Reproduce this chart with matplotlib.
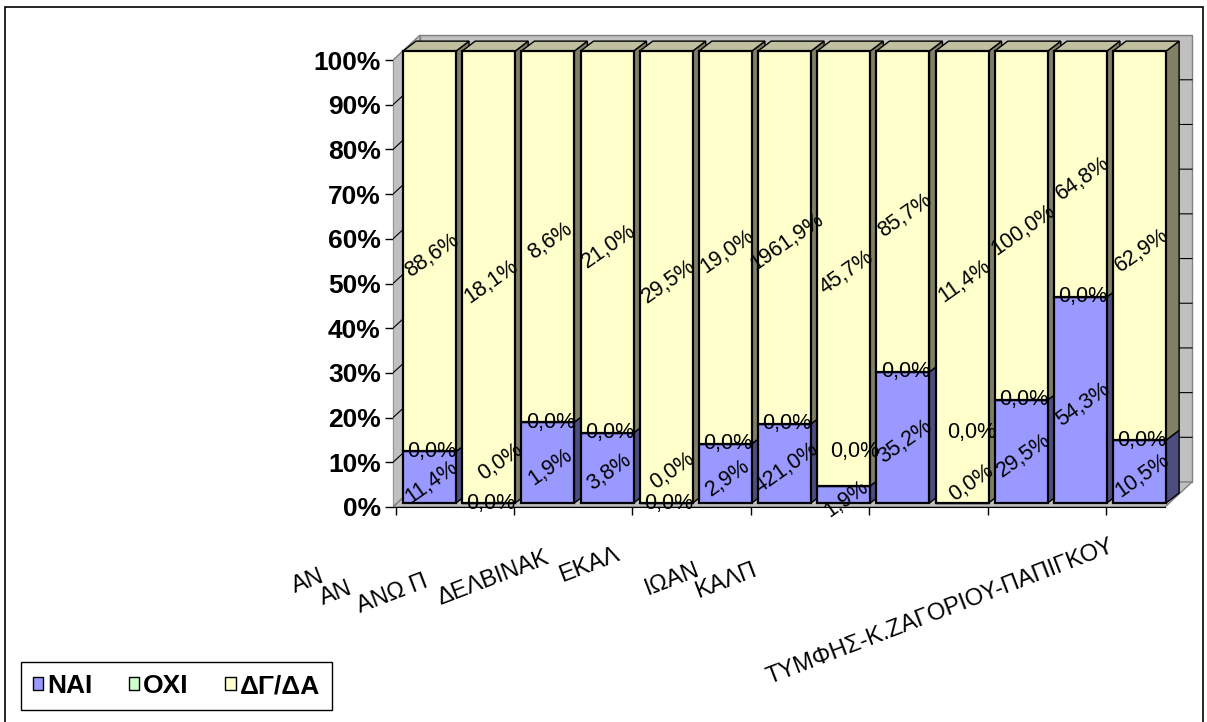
import numpy as np
import matplotlib
matplotlib.use('Agg')
import matplotlib.pyplot as plt
from matplotlib.patches import Polygon, Rectangle, Patch

plt.rcParams['font.family'] = ['Liberation Sans', 'DejaVu Sans']

# answers per municipal unit, 100% stacked
nai = [11.4, 0.0, 17.9, 15.5, 0.0, 13.1, 17.5, 3.8, 29.0, 0.0, 22.8, 45.6, 13.9]
oxi = [0.0, 0.0, 0.0, 0.0, 0.0, 0.0, 0.0, 0.0, 0.0, 0.0, 0.0, 0.0, 0.0]
dgda = [88.6, 100.0, 82.1, 84.5, 100.0, 86.9, 82.5, 96.2, 71.0, 100.0, 77.2, 54.4, 86.1]

# data label texts as they appear on the sheet
nai_txt = ['11,4%', '0,0%', '1,9%', '3,8%', '0,0%', '2,9%', '421,0%',
           '1,9%', '35,2%', '0,0%', '29,5%', '54,3%', '10,5%']
oxi_txt = ['0,0%', '0,0%', '0,0%', '0,0%', '0,0%', '0,0%', '0,0%',
           '0,0%', '0,0%', '0,0%', '0,0%', '0,0%', '0,0%']
dgda_txt = ['88,6%', '18,1%', '8,6%', '21,0%', '29,5%', '19,0%', '1961,9%',
            '45,7%', '85,7%', '11,4%', '100,0%', '64,8%', '62,9%']

series = ['ΝΑΙ', 'ΟΧΙ', 'ΔΓ/ΔΑ']
front_col = ['#9999ff', '#ccffcc', '#ffffcc']
side_col = ['#4d4d80', '#668066', '#808066']
top_col = ['#7a7acc', '#a3cca3', '#c0c0a0']

# category names (cut short the way the axis shows them), baseline start in px
cat_txt = ['ΑΝ', 'ΑΝ', 'ΑΝΩ Π', 'ΔΕΛΒΙΝΑΚ', 'ΕΚΑΛ', 'ΙΩΑΝ', 'ΚΑΛΠ',
           'ΤΥΜΦΗΣ-Κ.ΖΑΓΟΡΙΟΥ-ΠΑΠΙΓΚΟΥ']
cat_xy = [(295, 593), (323, 605), (360, 613), (440, 605), (562, 582),
          (648, 595), (698, 598), (770, 684)]

# labels dragged away from overlapping spots: (series, bar) -> (dx, dy)
nudge = {(0, 1): (0.15, 10.1), (0, 4): (0.07, 8.1), (1, 7): (0.15, 7.7),
         (0, 9): (0.12, 5.4), (1, 9): (0.12, 15.5)}

W, H = 1207, 722
fig = plt.figure(figsize=(W / 100, H / 100), dpi=100)
ax = fig.add_axes([393 / W, 1 - 507 / H, (1196.4 - 393) / W, 474 / H])
ax.set_xlim(-0.617, 12.96)
ax.set_ylim(-0.885, 104)
ax.patch.set_visible(False)

# 3d look: bar depth and wall/floor depth
BW = 0.896
DX, DY = 0.22, 2.2
X0, Y0, X1 = -0.617, -0.885, 12.43
WX, WY = 0.456, 5.53


def fwd(y):
    return (4.52 * np.asarray(y) + 4) / 4.47


def inv(v):
    return (4.47 * np.asarray(v) - 4) / 4.52


YT = float(inv(100))

wall_kw = dict(facecolor='#c0c0c0', edgecolor='#808080', lw=1, zorder=1)
ax.add_patch(Polygon([(X0 + WX, Y0 + WY), (X0 + WX, YT + WY),
                      (X1 + WX, YT + WY), (X1 + WX, Y0 + WY)], **wall_kw))
ax.add_patch(Polygon([(X0, Y0), (X0, YT), (X0 + WX, YT + WY),
                      (X0 + WX, Y0 + WY)], **wall_kw))
ax.add_patch(Polygon([(X0, Y0), (X1, Y0), (X1 + WX, Y0 + WY),
                      (X0 + WX, Y0 + WY)], **wall_kw))
for v in range(10, 100, 10):
    yv = float(inv(v))
    ax.plot([X0, X0 + WX, X1 + WX], [yv, yv + WY, yv + WY],
            color='black', lw=0.8, zorder=1.5)

x = np.arange(len(nai))
vals = np.array([nai, oxi, dgda], dtype=float)
shares = vals / vals.sum(axis=0) * 100
bottoms = np.vstack([np.zeros(len(x)), np.cumsum(shares, axis=0)[:-1]])

# side and top faces
for i in x:
    xl, xr = i - BW / 2, i + BW / 2
    for s in range(3):
        y0, y1 = bottoms[s, i], bottoms[s, i] + shares[s, i]
        if y1 - y0 <= 0:
            continue
        ax.add_patch(Polygon([(xr, y0), (xr + DX, y0 + DY), (xr + DX, y1 + DY), (xr, y1)],
                             facecolor=side_col[s], edgecolor='black', lw=1, zorder=3))
    ax.add_patch(Polygon([(xl, 100), (xl + DX, 100 + DY), (xr + DX, 100 + DY), (xr, 100)],
                         facecolor=top_col[2], edgecolor='black', lw=1, zorder=3.5))

# front faces
for s in range(3):
    ax.bar(x, shares[s], BW, bottom=bottoms[s], color=front_col[s],
           edgecolor='black', linewidth=1.6, zorder=4)

texts = [nai_txt, oxi_txt, dgda_txt]
for s in range(3):
    for i in x:
        dx, dy = nudge.get((s, i), (0.0, 0.0))
        ybase = bottoms[s, i] + shares[s, i] / 2
        if s != 1:
            ybase -= 1.0
        ax.text(i + 0.04 + dx, ybase + dy, texts[s][i],
                rotation=0 if s == 1 else 35, rotation_mode='anchor',
                ha='center', va='center', fontsize=15.5, zorder=6)

# axes
for k in ['left', 'right', 'top']:
    ax.spines[k].set_visible(False)
ax.spines['bottom'].set_bounds(X0, X1)
ax.spines['bottom'].set_zorder(2)
ax.set_yticks([])
ax.set_xticks(np.arange(0, 13, 2) - 0.57)
ax.set_xticklabels([])
ax.tick_params(axis='x', length=5.8, width=1, direction='out')

sec = ax.secondary_yaxis('left', functions=(fwd, inv))
sec.spines['left'].set_bounds(0, 100)
ticks = np.arange(0, 101, 10)
sec.set_yticks(ticks, labels=[f'{t}%' for t in ticks], fontweight='bold', fontsize=19)
sec.tick_params(length=5.8, width=1, pad=3)

for txt, (px, py) in zip(cat_txt, cat_xy):
    fig.text(px / W, 1 - py / H, txt, rotation=21, rotation_mode='anchor',
             ha='left', va='baseline', fontsize=17)

handles = [Patch(facecolor=c, edgecolor='black', lw=1) for c in front_col]
fig.legend(handles, series, loc='lower left', bbox_to_anchor=(21 / W, 1 - 710 / H),
           ncol=3, frameon=True, fancybox=False, edgecolor='black', framealpha=1,
           prop={'weight': 'bold', 'size': 19}, handlelength=0.38, handleheight=0.38,
           handletextpad=0.15, columnspacing=1.4, borderpad=0.45, borderaxespad=0)

fig.patches.append(Rectangle((5 / W, -0.05), 1198 / W, (H - 7) / H + 0.05,
                             transform=fig.transFigure, fill=False,
                             edgecolor='black', lw=1.2))

fig.savefig('out.png', dpi=100)
